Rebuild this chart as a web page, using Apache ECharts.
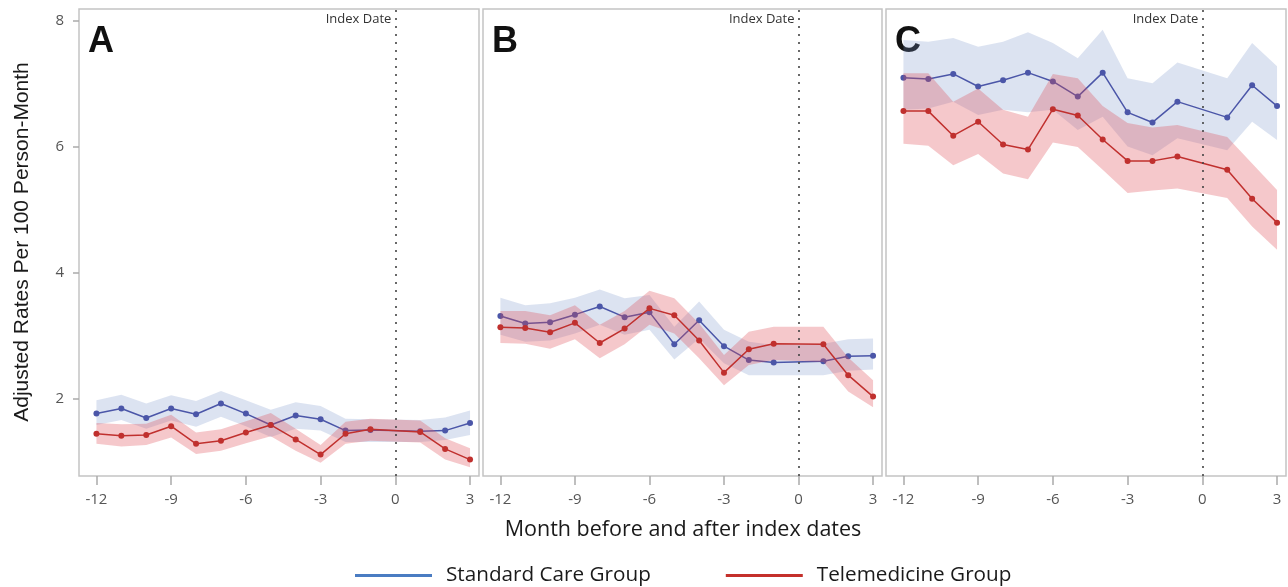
<!DOCTYPE html>
<html><head><meta charset="utf-8">
<script src="https://cdn.jsdelivr.net/npm/echarts@6/dist/echarts.min.js"></script>
<style>html,body{margin:0;padding:0;background:#fff}#c{width:1288px;height:587px}</style>
</head><body><div id="c"></div>
<script>
const months = [-12,-11,-10,-9,-8,-7,-6,-5,-4,-3,-2,-1,1,2,3];
const xTicks = [-12,-9,-6,-3,0,3];
const yTicks = [2,4,6,8];
const panelLabels = ['A','B','C'];
const seriesNames = ['Standard Care Group','Telemedicine Group'];

// Panel A
const aStdMean = [1.77,1.85,1.70,1.85,1.76,1.93,1.77,1.59,1.74,1.68,1.50,1.51,1.49,1.50,1.62];
const aStdLo   = [1.59,1.67,1.53,1.66,1.56,1.72,1.57,1.40,1.53,1.50,1.32,1.32,1.32,1.35,1.43];
const aStdHi   = [1.98,2.07,1.93,2.06,1.97,2.13,1.98,1.83,1.95,1.89,1.69,1.68,1.67,1.71,1.82];
const aTelMean = [1.45,1.42,1.43,1.57,1.29,1.34,1.47,1.59,1.36,1.12,1.45,1.52,1.48,1.21,1.04];
const aTelLo   = [1.29,1.25,1.27,1.39,1.13,1.18,1.30,1.41,1.18,0.99,1.29,1.34,1.31,1.04,0.92];
const aTelHi   = [1.62,1.60,1.61,1.75,1.47,1.52,1.65,1.78,1.53,1.27,1.64,1.69,1.66,1.38,1.22];
// Panel B
const bStdMean = [3.32,3.20,3.22,3.34,3.47,3.30,3.38,2.87,3.25,2.84,2.62,2.58,2.60,2.68,2.69];
const bStdLo   = [3.02,2.91,2.93,3.04,3.18,3.02,3.10,2.63,2.96,2.57,2.38,2.38,2.38,2.45,2.47];
const bStdHi   = [3.61,3.49,3.52,3.61,3.74,3.60,3.65,3.15,3.55,3.10,2.91,2.86,2.88,2.95,2.96];
const bTelMean = [3.14,3.13,3.06,3.21,2.89,3.12,3.44,3.33,2.93,2.42,2.79,2.88,2.87,2.38,2.04];
const bTelLo   = [2.89,2.88,2.80,2.95,2.65,2.87,3.18,3.04,2.65,2.22,2.54,2.62,2.59,2.12,1.87];
const bTelHi   = [3.40,3.40,3.33,3.49,3.18,3.40,3.72,3.60,3.20,2.70,3.07,3.15,3.15,2.66,2.30];
// Panel C
const cStdMean = [7.10,7.08,7.16,6.96,7.06,7.18,7.04,6.80,7.18,6.55,6.39,6.72,6.47,6.98,6.65];
const cStdLo   = [6.59,6.61,6.72,6.51,6.59,6.55,6.59,6.27,6.48,6.01,5.87,6.14,5.95,6.40,6.11];
const cStdHi   = [7.70,7.67,7.73,7.59,7.67,7.82,7.65,7.41,7.86,7.09,7.01,7.34,7.09,7.65,7.28];
const cTelMean = [6.57,6.57,6.18,6.40,6.04,5.96,6.60,6.50,6.12,5.78,5.78,5.85,5.64,5.18,4.80];
const cTelLo   = [6.05,6.02,5.71,5.89,5.58,5.49,6.07,6.00,5.64,5.27,5.31,5.34,5.19,4.74,4.37];
const cTelHi   = [7.17,7.17,6.72,6.93,6.59,6.48,7.16,7.09,6.65,6.38,6.31,6.35,6.16,5.74,5.32];

const panels = [
  {std:[aStdMean,aStdLo,aStdHi], tel:[aTelMean,aTelLo,aTelHi]},
  {std:[bStdMean,bStdLo,bStdHi], tel:[bTelMean,bTelLo,bTelHi]},
  {std:[cStdMean,cStdLo,cStdHi], tel:[cTelMean,cTelLo,cTelHi]}
];

const layout = [{left:79,width:400},{left:483,width:399},{left:886,width:400}];
const TOP = 9, HEIGHT = 467;
const XMIN = -12.7, XMAX = 3.36, YMIN = 0.78, YMAX = 8.19;
const FONT = 'Open Sans';
const BLUE = '#4b56a8', RED = '#c0302e';
const BLUE_BAND = 'rgba(120,145,200,0.26)', RED_BAND = 'rgba(222,72,82,0.30)';

function bandSeries(name, gi, lo, hi, color, z) {
  return {
    type: 'custom', name: name, xAxisIndex: gi, yAxisIndex: gi, z: z, silent: true,
    data: months.map((m, i) => [m, lo[i], hi[i]]),
    encode: {x: 0, y: [1, 2]},
    renderItem: function (params, api) {
      if (params.dataIndex !== 0) return null;
      const pts = [];
      for (let i = 0; i < months.length; i++) pts.push(api.coord([months[i], hi[i]]));
      for (let i = months.length - 1; i >= 0; i--) pts.push(api.coord([months[i], lo[i]]));
      return {type: 'polygon', shape: {points: pts}, style: {fill: color}};
    }
  };
}
function lineSeries(name, gi, mean, color, z, withMark) {
  const s = {
    type: 'line', name: name, xAxisIndex: gi, yAxisIndex: gi, z: z, silent: true,
    data: months.map((m, i) => [m, mean[i]]),
    symbol: 'circle', symbolSize: 6,
    lineStyle: {color: color, width: 1.5},
    itemStyle: {color: color},
    animation: false
  };
  if (withMark) {
    s.markLine = {
      silent: true, symbol: ['none', 'none'], animation: false,
      label: {show: false},
      lineStyle: {type: [2, 6], color: '#444', width: 1.6},
      data: [{xAxis: 0}]
    };
  }
  return s;
}

const grids = [], xAxes = [], yAxes = [], series = [];
layout.forEach((l, gi) => {
  grids.push({left: l.left, top: TOP, width: l.width, height: HEIGHT, show: true,
    borderColor: '#c4c4c4', borderWidth: 1.5, backgroundColor: 'transparent'});
  xAxes.push({type: 'value', gridIndex: gi, min: XMIN, max: XMAX, position: 'bottom',
    axisLine: {show: false, onZero: false},
    axisTick: {show: true, customValues: xTicks, length: 9, lineStyle: {color: '#aaa', width: 1.5}},
    axisLabel: {customValues: xTicks, margin: 16, fontFamily: FONT, fontSize: 15, color: '#555'},
    splitLine: {show: false}});
  yAxes.push({type: 'value', gridIndex: gi, min: YMIN, max: YMAX, position: 'left',
    axisLine: {show: false, onZero: false},
    axisTick: {show: gi === 0, customValues: yTicks, length: 6, lineStyle: {color: '#aaa', width: 1.5}},
    axisLabel: {show: gi === 0, customValues: yTicks, margin: 15, fontFamily: FONT, fontSize: 15, color: '#555'},
    splitLine: {show: false}});
  const p = panels[gi];
  series.push(bandSeries(seriesNames[0] + ' CI', gi, p.std[1], p.std[2], BLUE_BAND, 1));
  series.push(lineSeries(seriesNames[0], gi, p.std[0], BLUE, 2, false));
  series.push(bandSeries(seriesNames[1] + ' CI', gi, p.tel[1], p.tel[2], RED_BAND, 3));
  series.push(lineSeries(seriesNames[1], gi, p.tel[0], RED, 4, true));
});

const chart = echarts.init(document.getElementById('c'), null, {renderer: 'canvas'});
chart.setOption({
  animation: false,
  backgroundColor: '#fff',
  grid: grids, xAxis: xAxes, yAxis: yAxes, series: series,
  legend: {
    left: 350, top: 560, itemWidth: 77, itemHeight: 3, itemGap: 75, icon: 'rect',
    selectedMode: false,
    textStyle: {fontFamily: FONT, fontSize: 20.7, color: '#1a1a1a', padding: [0, 0, 0, 9]},
    data: [
      {name: seriesNames[0], itemStyle: {color: '#4a7cc2'}},
      {name: seriesNames[1], itemStyle: {color: '#c4302b'}}
    ]
  }
});

const g = [];
layout.forEach((l, gi) => {
  const x0 = chart.convertToPixel({xAxisIndex: gi}, 0);
  g.push({type: 'text', left: l.left + 9, top: 24, silent: true,
    style: {text: panelLabels[gi], font: 'bold 36px Arial', fill: '#111'}});
  g.push({type: 'text', x: x0 - 4, y: 19, silent: true,
    style: {text: 'Index Date', font: '13px "' + FONT + '"', fill: '#333', align: 'right', verticalAlign: 'middle'}});
});
g.push({type: 'text', x: 22, y: 242, rotation: Math.PI / 2, silent: true,
  style: {text: 'Adjusted Rates Per 100 Person-Month', font: '21px "Liberation Sans"', fill: '#1a1a1a', align: 'center', verticalAlign: 'middle'}});
g.push({type: 'text', x: 683, y: 530, silent: true,
  style: {text: 'Month before and after index dates', font: '21.5px "' + FONT + '"', fill: '#1a1a1a', align: 'center', verticalAlign: 'middle'}});
chart.setOption({graphic: g});
</script>
</body></html>
